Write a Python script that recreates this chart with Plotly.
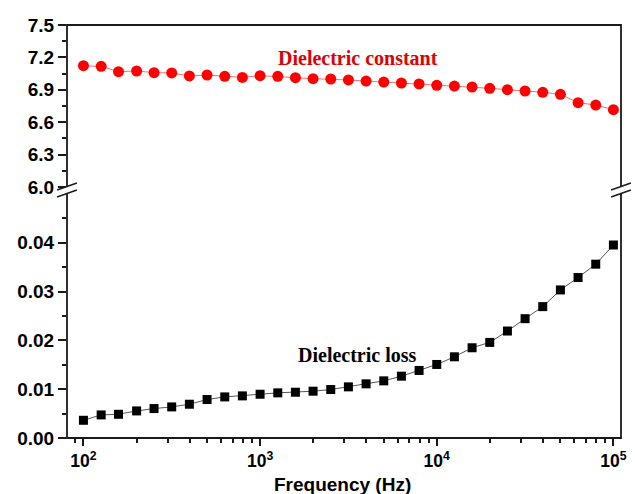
import plotly.graph_objects as go

freq = [100, 126, 158, 200, 251, 316, 398, 501, 631, 794,
        1000, 1259, 1585, 1995, 2512, 3162, 3981, 5012, 6310, 7943,
        10000, 12589, 15849, 19953, 25119, 31623, 39811, 50119, 63096, 79433,
        100000]
diel_const = [7.123, 7.117, 7.068, 7.074, 7.059, 7.056, 7.028, 7.037, 7.025, 7.015,
              7.031, 7.025, 7.012, 7.003, 7.000, 6.991, 6.981, 6.972, 6.963, 6.954,
              6.941, 6.935, 6.926, 6.914, 6.901, 6.889, 6.877, 6.858, 6.781, 6.759,
              6.716]
diel_loss = [0.00363, 0.00473, 0.00486, 0.00555, 0.00603, 0.00637, 0.00692, 0.00788, 0.00842, 0.00863,
             0.00897, 0.00925, 0.00938, 0.00959, 0.00993, 0.01048, 0.01110, 0.01171, 0.01267, 0.01384,
             0.01507, 0.01664, 0.01849, 0.01959, 0.02192, 0.02445, 0.02692, 0.03034, 0.03288, 0.03562,
             0.03955]

x_tickvals = [100, 1000, 10000, 100000]
x_ticktext = ["<b>10<sup>2</sup></b>", "<b>10<sup>3</sup></b>",
              "<b>10<sup>4</sup></b>", "<b>10<sup>5</sup></b>"]
x_minor = [90] + [m * 10 ** e for e in (2, 3, 4) for m in range(2, 10)]
top_ticks = [6.0, 6.3, 6.6, 6.9, 7.2, 7.5]
top_minor = [6.15, 6.45, 6.75, 7.05, 7.35]
bot_ticks = [0.00, 0.01, 0.02, 0.03, 0.04]
bot_minor = [0.005, 0.015, 0.025, 0.035, 0.045]

W, H = 635, 494
L, R, T, B = 67, 8, 25, 56
PW, PH = W - L - R, H - T - B
bottom_px = H - B


def px(x):
    return (x - L) / PW


def py(y):
    return (bottom_px - y) / PH


ytick_font = dict(family="Arial, Liberation Sans, sans-serif", size=19, color="black")
xtick_font = dict(family="Arial, Liberation Sans, sans-serif", size=17.5, color="black")
AX = "#1a1a1a"

fig = go.Figure()
fig.add_trace(go.Scatter(
    x=freq, y=diel_const, xaxis="x2", yaxis="y",
    mode="lines+markers",
    line=dict(color="#f07070", width=1),
    marker=dict(symbol="circle", size=11, color="#ff0000"),
    showlegend=False))
fig.add_trace(go.Scatter(
    x=freq, y=diel_loss, xaxis="x", yaxis="y2",
    mode="lines+markers",
    line=dict(color="#555555", width=1),
    marker=dict(symbol="square", size=9, color="#000000"),
    showlegend=False))

common_ax = dict(showgrid=False, zeroline=False, showline=False,
                 ticks="outside", tickcolor=AX, tickwidth=1.5)

fig.update_layout(
    width=W, height=H,
    margin=dict(l=L, r=R, t=T, b=B, pad=0),
    paper_bgcolor="white", plot_bgcolor="white",
    xaxis=dict(type="log", range=[1.907, 5.043], anchor="y2",
               tickmode="array", tickvals=x_tickvals, ticktext=x_ticktext,
               ticklen=7, tickfont=xtick_font,
               minor=dict(tickmode="array", tickvals=x_minor, ticks="outside",
                          ticklen=4, tickcolor=AX, tickwidth=1.5, showgrid=False),
               **common_ax),
    xaxis2=dict(type="log", range=[1.907, 5.043], anchor="y", matches="x",
                showticklabels=False, showgrid=False, zeroline=False,
                showline=False, ticks=""),
    yaxis=dict(domain=[py(187), 1], range=[6.0, 7.5], anchor="x2",
               tickmode="array", tickvals=top_ticks,
               ticktext=[f"<b>{v:.1f}</b>" for v in top_ticks],
               ticklen=8, tickfont=ytick_font,
               minor=dict(tickmode="array", tickvals=top_minor, ticks="outside",
                          ticklen=4, tickcolor=AX, tickwidth=1.5, showgrid=False),
               **common_ax),
    yaxis2=dict(domain=[0, py(194)], range=[0, 0.05], anchor="x",
                tickmode="array", tickvals=bot_ticks,
                ticktext=[f"<b>{v:.2f}</b>" for v in bot_ticks],
                ticklen=8, tickfont=ytick_font,
                minor=dict(tickmode="array", tickvals=bot_minor, ticks="outside",
                           ticklen=4, tickcolor=AX, tickwidth=1.5, showgrid=False),
                **common_ax),
)

shapes = [dict(type="rect", xref="paper", yref="paper", x0=0, x1=1, y0=0, y1=1,
               line=dict(color=AX, width=1.8), layer="above")]


def brk(cx):
    x0, x1 = cx - 10, cx + 10
    poly = (f"M {px(x0)},{py(190)} L {px(x1)},{py(183)} "
            f"L {px(x1)},{py(190)} L {px(x0)},{py(197)} Z")
    return [
        dict(type="path", xref="paper", yref="paper", path=poly,
             fillcolor="white", line=dict(width=0), layer="above"),
        dict(type="line", xref="paper", yref="paper", x0=px(x0), y0=py(190),
             x1=px(x1), y1=py(183), line=dict(color=AX, width=1.5), layer="above"),
        dict(type="line", xref="paper", yref="paper", x0=px(x0), y0=py(197),
             x1=px(x1), y1=py(190), line=dict(color=AX, width=1.5), layer="above"),
    ]


shapes += brk(67) + brk(627)
fig.update_layout(shapes=shapes)

serif = dict(family="Times New Roman, Liberation Serif, serif", size=20)
fig.add_annotation(xref="paper", yref="paper", x=px(361), y=py(57.5),
                   xanchor="center", yanchor="middle",
                   text="<b>Dielectric constant</b>", showarrow=False,
                   font=dict(color="#e00000", **serif))
fig.add_annotation(xref="paper", yref="paper", x=px(360), y=py(355),
                   xanchor="center", yanchor="middle",
                   text="<b>Dielectric loss</b>", showarrow=False,
                   font=dict(color="black", **serif))
fig.add_annotation(xref="paper", yref="paper", x=px(345), y=py(484),
                   xanchor="center", yanchor="middle",
                   text="<b>Frequency (Hz)</b>", showarrow=False,
                   font=dict(family="Arial, Liberation Sans, sans-serif", size=19,
                             color="black"))

fig.write_html("out.html")
